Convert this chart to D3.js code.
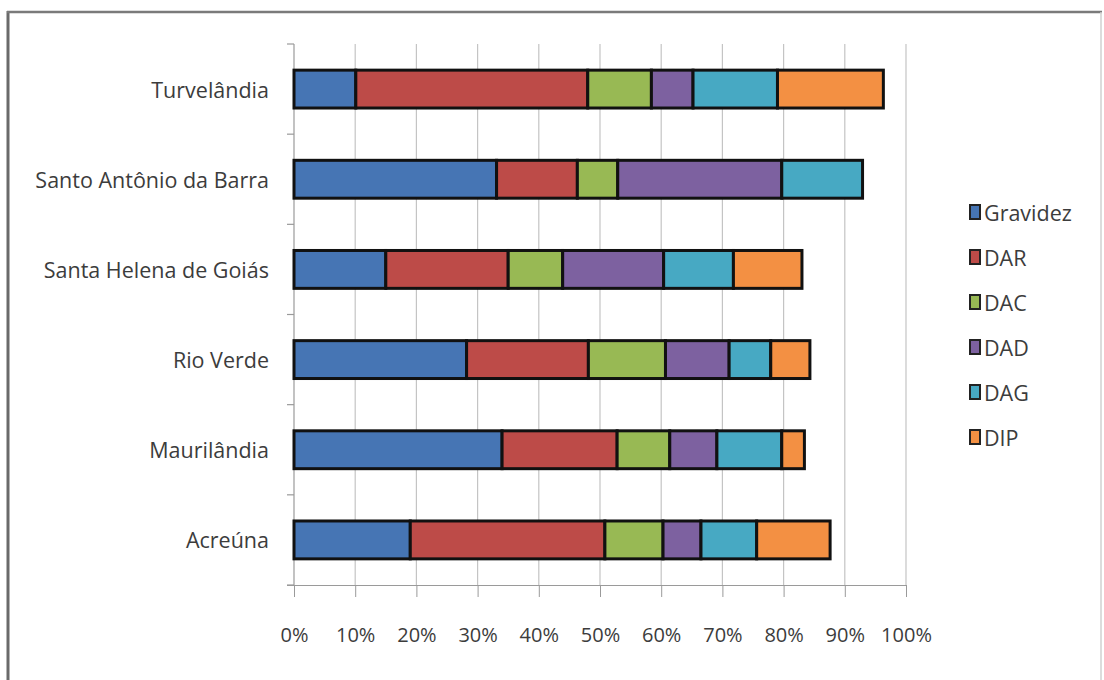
<!DOCTYPE html>
<html>
<head>
<meta charset="utf-8">
<script src="https://cdn.jsdelivr.net/npm/d3@7"></script>
<style>
  html, body { margin: 0; padding: 0; background: #fff; }
  svg { display: block; }
  text { font-family: "Open Sans", sans-serif; fill: #3c3c3c; }
</style>
</head>
<body>
<svg id="chart" width="1104" height="680"></svg>
<script>
const categories = ["Turvelândia", "Santo Antônio da Barra", "Santa Helena de Goiás", "Rio Verde", "Maurilândia", "Acreúna"];
const seriesNames = ["Gravidez", "DAR", "DAC", "DAD", "DAG", "DIP"];
const gravidez = [10.1, 33.1, 15.0, 28.2, 34.0, 19.0];
const dar      = [37.9, 13.2, 20.0, 19.9, 18.8, 31.8];
const dac      = [10.4, 6.6, 8.9, 12.6, 8.6, 9.5];
const dad      = [6.8, 26.8, 16.5, 10.4, 7.7, 6.2];
const dag      = [13.8, 13.2, 11.4, 6.8, 10.6, 9.1];
const dip      = [17.3, 0, 11.2, 6.4, 3.7, 12.0];
const tickValues = [0, 10, 20, 30, 40, 50, 60, 70, 80, 90, 100];
const colors = ["#4675B4", "#BD4B48", "#98B954", "#7D61A0", "#47A9C3", "#F39043"];

const seriesValues = [gravidez, dar, dac, dad, dag, dip];
const table = categories.map((c, i) => {
  const row = { cat: c };
  seriesNames.forEach((s, j) => row[s] = seriesValues[j][i]);
  return row;
});

const svg = d3.select("#chart");

// outer frame
svg.append("line").attr("x1", 8).attr("x2", 8).attr("y1", 11).attr("y2", 690)
  .attr("stroke", "#6a6a6a").attr("stroke-width", 3);
svg.append("line").attr("x1", 7).attr("x2", 1102).attr("y1", 12).attr("y2", 12)
  .attr("stroke", "#7a7a7a").attr("stroke-width", 2.5);
svg.append("line").attr("x1", 1101).attr("x2", 1101).attr("y1", 12).attr("y2", 690)
  .attr("stroke", "#d0d0d0").attr("stroke-width", 1.5);

const x = d3.scaleLinear().domain([0, 100]).range([294, 906]);
const y = d3.scaleBand().domain(categories).range([44, 585]).paddingInner(0.58).paddingOuter(0.29);

// gridlines
svg.append("g").selectAll("line").data(tickValues.slice(1)).join("line")
  .attr("x1", d => x(d)).attr("x2", d => x(d))
  .attr("y1", 44).attr("y2", 585)
  .attr("stroke", "#c4c4c4").attr("stroke-width", 1.2);

// x axis
const xAxis = d3.axisBottom(x).tickValues(tickValues).tickFormat(d => d + "%").tickSize(12).tickSizeOuter(0);
const gx = svg.append("g").attr("transform", "translate(0,585)").call(xAxis);
gx.select(".domain").attr("stroke", "#9a9a9a").attr("d", "M287,0.5H906");
gx.selectAll(".tick line").attr("stroke", "#9a9a9a");
gx.selectAll(".tick text").attr("dy", null).attr("y", 57).style("font-size", "20px").attr("fill", "#3c3c3c");

// y axis
const yTicks = d3.range(0, categories.length + 1).map(i => 44 + i * (541 / categories.length));
svg.append("line").attr("x1", 294).attr("x2", 294).attr("y1", 44).attr("y2", 585)
  .attr("stroke", "#9a9a9a").attr("stroke-width", 1.2);
svg.append("g").selectAll("line").data(yTicks).join("line")
  .attr("x1", 287).attr("x2", 294).attr("y1", d => d).attr("y2", d => d)
  .attr("stroke", "#9a9a9a").attr("stroke-width", 1.2);
svg.append("g").selectAll("text").data(categories).join("text")
  .attr("x", 269).attr("y", d => y(d) + y.bandwidth() / 2)
  .attr("text-anchor", "end").attr("dominant-baseline", "central")
  .style("font-size", "21.5px").text(d => d);

// stacked bars
const stack = d3.stack().keys(seriesNames)(table);
svg.append("g").selectAll("g").data(stack).join("g")
  .attr("fill", (d, i) => colors[i])
  .selectAll("rect").data(d => d.filter(p => p[1] - p[0] > 0)).join("rect")
  .attr("x", d => x(d[0])).attr("width", d => x(d[1]) - x(d[0]))
  .attr("y", d => y(d.data.cat)).attr("height", y.bandwidth())
  .attr("stroke", "#111").attr("stroke-width", 3);

// legend
const lg = svg.append("g");
const items = lg.selectAll("g").data(seriesNames).join("g")
  .attr("transform", (d, i) => `translate(970, ${212 + i * 45})`);
items.append("rect").attr("x", 0).attr("y", -7).attr("width", 10).attr("height", 14)
  .attr("fill", (d, i) => colors[i]).attr("stroke", "#222").attr("stroke-width", 2);
items.append("text").attr("x", 14).attr("y", 0).attr("dominant-baseline", "central")
  .style("font-size", "21.5px").text(d => d);
</script>
</body>
</html>
